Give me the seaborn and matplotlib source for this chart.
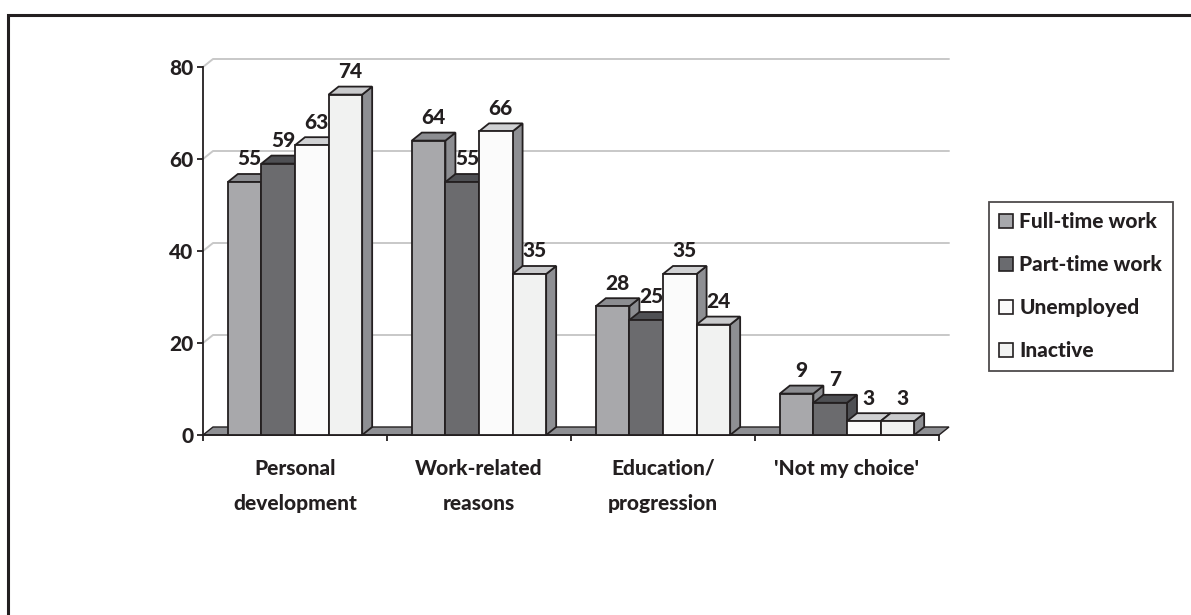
import numpy as np
import pandas as pd
import matplotlib
matplotlib.use('Agg')
import matplotlib.pyplot as plt
import seaborn as sns
from matplotlib.patches import Polygon, Patch, Rectangle

reasons = ['Personal\ndevelopment', 'Work-related\nreasons', 'Education/\nprogression', "'Not my choice'"]
status = ['Full-time work', 'Part-time work', 'Unemployed', 'Inactive']
full_time = [55, 64, 28, 9]
part_time = [59, 55, 25, 7]
unemployed = [63, 66, 35, 3]
inactive = [74, 35, 24, 3]
y_ticks = [0, 20, 40, 60, 80]

front_cols = ['#a7a8ac', '#6a6b6f', '#fbfbfb', '#f1f2f1']
top_cols = ['#8c8d91', '#4f5054', '#d0d1d3', '#c9cacc']
side_cols = ['#8c8d91', '#4f5054', '#8e8f93', '#8e8f93']
ink = '#231f20'
fs = 15
fw = 'black'

df = pd.DataFrame({
    'reason': np.repeat(reasons, 4),
    'status': status * 4,
    'pct': np.array([full_time, part_time, unemployed, inactive]).T.ravel(),
})

sns.set_style('white')
plt.rcParams['font.family'] = ['Lato', 'DejaVu Sans']

fig = plt.figure(figsize=(11.91, 6.15), dpi=100)
ax = fig.add_axes([203 / 1191, 180 / 615, 736 / 1191, 368 / 615])

sns.barplot(data=df, x='reason', y='pct', hue='status', hue_order=status,
            palette=front_cols, width=0.73, gap=0, edgecolor=ink, linewidth=1.3,
            legend=False, ax=ax, zorder=3)

ax.set_xlim(-0.5, 3.5)
ax.set_ylim(0, 80)

# depth offset of the fake 3D, 10 px right and 8 px up
p0 = ax.transData.transform((0, 0))
ddx, ddy = ax.transData.inverted().transform(p0 + np.array([10, 8]))

# back wall gridlines
for v in y_ticks[1:]:
    ax.plot([-0.5, -0.5 + ddx, 3.5 + ddx], [v, v + ddy, v + ddy], color='#c8c8c8',
            lw=1.4, zorder=0.5, clip_on=False)

# floor
ax.add_patch(Polygon([(-0.5, 0), (3.5, 0), (3.5 + ddx, ddy), (-0.5 + ddx, ddy)],
                     closed=True, facecolor='#8e8f93', edgecolor=ink, lw=1.0,
                     zorder=1, clip_on=False))

# top and side faces, ordered left to right so the next bar hides the side
bars = []
for j, cont in enumerate(ax.containers):
    for k, b in enumerate(cont):
        bars.append((b.get_x(), j, b))
bars.sort(key=lambda t: t[0])
for r, (x0, j, b) in enumerate(bars):
    w = b.get_width()
    h = b.get_height()
    x1 = x0 + w
    b.set_zorder(3 + r + 0.5)
    b.set_clip_on(False)
    top = Polygon([(x0, h), (x1, h), (x1 + ddx, h + ddy), (x0 + ddx, h + ddy)], closed=True,
                  facecolor=top_cols[j], edgecolor=ink, lw=1.3, zorder=3 + r, clip_on=False)
    side = Polygon([(x1, 0), (x1, h), (x1 + ddx, h + ddy), (x1 + ddx, ddy)], closed=True,
                   facecolor=side_cols[j], edgecolor=ink, lw=1.3, zorder=3 + r, clip_on=False)
    ax.add_patch(side)
    ax.add_patch(top)
    ax.annotate(f'{h:.0f}', (x0 + w / 2 + ddx / 2, h + ddy), xytext=(0, 4),
                textcoords='offset points', ha='center', va='bottom',
                fontsize=fs, fontweight=fw, color=ink, zorder=100)

sns.despine(ax=ax, top=True, right=True)
for s in ['left', 'bottom']:
    ax.spines[s].set_color(ink)
    ax.spines[s].set_linewidth(1.3)
    ax.spines[s].set_zorder(2)

ax.set_yticks(y_ticks)
ax.set_yticklabels([str(v) for v in y_ticks], fontsize=fs, fontweight=fw, color=ink)
ax.tick_params(axis='y', length=4, width=1.3, color=ink, pad=3, left=True)
ax.set_xticks(range(len(reasons)))
ax.set_xticklabels(reasons, fontsize=fs, fontweight=fw, color=ink, linespacing=2.0)
ax.tick_params(axis='x', which='major', length=0, pad=17)
ax.set_xticks(np.arange(-0.5, 4, 1), minor=True)
ax.tick_params(axis='x', which='minor', length=4, width=1.3, color=ink, bottom=True)
ax.set_xlabel('')
ax.set_ylabel('')
ax.grid(False)

handles = [Patch(facecolor=c, edgecolor=ink, lw=1.2) for c in front_cols]
leg = fig.legend(handles, status, loc='upper left', bbox_to_anchor=(989 / 1191, 1 - 202 / 615),
                 bbox_transform=fig.transFigure, borderaxespad=0, fancybox=False, frameon=True,
                 prop={'size': fs, 'weight': fw}, labelspacing=1.15, handlelength=0.65,
                 handleheight=0.65, handletextpad=0.3, borderpad=0.5)
leg.get_frame().set_edgecolor(ink)
leg.get_frame().set_linewidth(1.3)
for t in leg.get_texts():
    t.set_color(ink)

# outer frame
fig.add_artist(Rectangle((8 / 1191, -0.1), 2, 1.1 - 15 / 615, transform=fig.transFigure,
                         fill=False, edgecolor=ink, lw=2.2))

fig.savefig('out.png', dpi=100)
